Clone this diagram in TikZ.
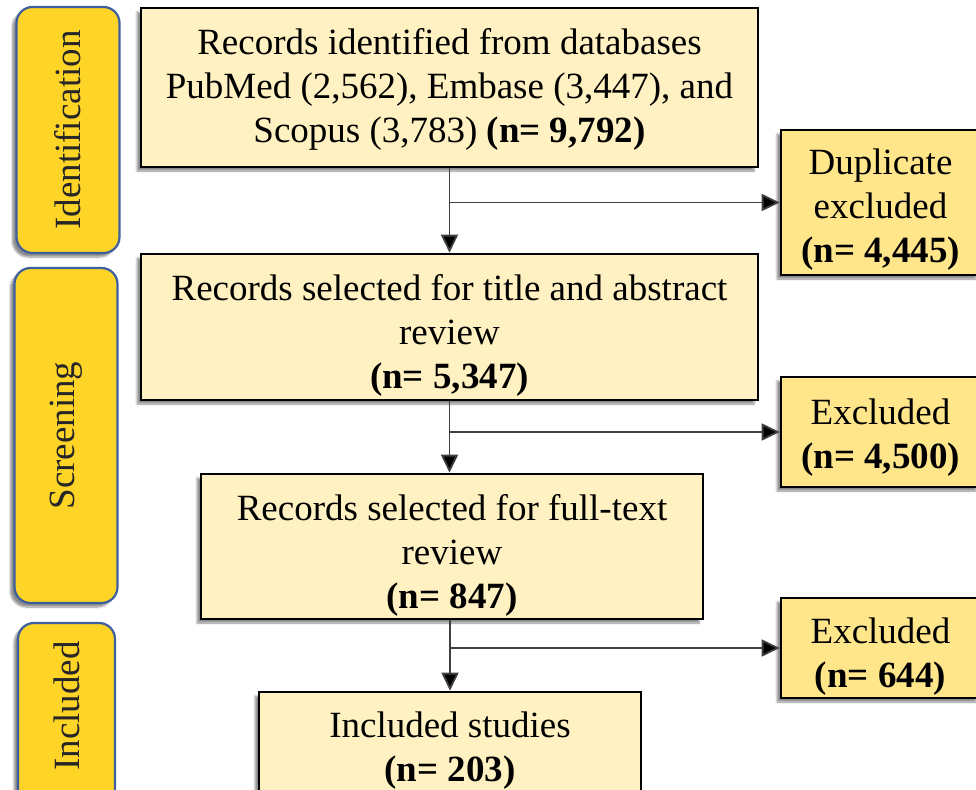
\documentclass[tikz,border=0pt]{standalone}
\usepackage{fontspec}
\setmainfont{Liberation Serif}
\usetikzlibrary{arrows.meta,shadows.blur}
\definecolor{mainfill}{HTML}{FFF1C1}
\definecolor{sidefill}{HTML}{FFE68A}
\definecolor{labfill}{HTML}{FED426}
\definecolor{labline}{HTML}{3D5F9E}
\definecolor{connline}{HTML}{404040}
\definecolor{labtext}{HTML}{262626}
\tikzset{
  txt/.style={font=\fontsize{37}{44}\selectfont, align=center, inner sep=0pt},
  shad/.style={blur shadow={shadow xshift=-4pt, shadow yshift=-4pt, shadow blur steps=8, shadow opacity=45}},
  mainbox/.style={draw=black, line width=2.6pt, fill=mainfill, inner sep=0pt, shad},
  sidebox/.style={draw=black, line width=2.6pt, fill=sidefill, inner sep=0pt, shad},
  labbox/.style={txt, draw=labline, line width=2.2pt, fill=labfill, rounded corners=16pt, text=labtext, shad},
  conn/.style={draw=connline, line width=1.8pt, -{Triangle[length=18pt,width=17pt,fill=black]}}
}
\begin{document}
\begin{tikzpicture}[x=1pt,y=-1pt]
\useasboundingbox (0,0) rectangle (976,789);
\clip (0,0) rectangle (976,789);
% stage labels
\node[labbox, minimum width=103pt, minimum height=246pt] (lid) at (68,130) {\rotatebox{90}{Identification}};
\node[labbox, minimum width=103pt, minimum height=335pt] (lsc) at (66,435.5) {\rotatebox{90}{Screening}};
\node[labbox, minimum width=97pt, minimum height=190pt] (lin) at (66.5,718) {\rotatebox{90}{\hspace*{24pt}Included}};
% main boxes
\node[mainbox, minimum width=617pt, minimum height=159pt] (b1) at (449.5,87.5) {};
\node[txt] (b1t) at ([yshift=-2pt]b1.center)
  {Records identified from databases\\PubMed (2,562), Embase (3,447), and\\Scopus (3,783) \textbf{(n= 9,792)}};
\node[mainbox, minimum width=617pt, minimum height=146pt] (b2) at (449.5,327) {};
\node[txt] (b2t) at ([yshift=-8pt]b2.center)
  {Records selected for title and abstract\\review\\\textbf{(n= 5,347)}};
\node[mainbox, minimum width=502pt, minimum height=145pt] (b3) at (452,546.5) {};
\node[txt] (b3t) at ([yshift=-9pt]b3.center)
  {Records selected for full-text\\review\\\textbf{(n= 847)}};
\node[mainbox, minimum width=382pt, minimum height=112pt] (b4) at (450,748) {};
\node[txt] (b4t) at ([yshift=-3pt]b4.center)
  {Included studies\\\textbf{(n= 203)}};
% side boxes
\node[sidebox, minimum width=199pt, minimum height=145pt] (dup) at (880.5,202.5) {};
\node[txt] (dupt) at ([yshift=-7pt]dup.center)
  {Duplicate\\excluded\\\textbf{(n= 4,445)}};
\node[sidebox, minimum width=199pt, minimum height=110pt] (ex1) at (880.5,432) {};
\node[txt] (ex1t) at ([yshift=-6pt]ex1.center)
  {Excluded\\\textbf{(n= 4,500)}};
\node[sidebox, minimum width=199pt, minimum height=100pt] (ex2) at (880.5,648) {};
\node[txt] (ex2t) at ([yshift=-9pt]ex2.center)
  {Excluded\\\textbf{(n= 644)}};
% junctions
\coordinate (j1) at (449.5,202.5);
\coordinate (j2) at (449.5,432);
\coordinate (j3) at (450,648);
% connectors
\draw[conn] (b1.south) -- (b2.north);
\draw[conn] (b2.south) -- (b2.south |- b3.north);
\draw[conn] (b4.north |- b3.south) -- (b4.north);
\draw[conn] (j1) -- (dup.west);
\draw[conn] (j2) -- (ex1.west);
\draw[conn] (j3) -- (ex2.west);
\end{tikzpicture}
\end{document}
